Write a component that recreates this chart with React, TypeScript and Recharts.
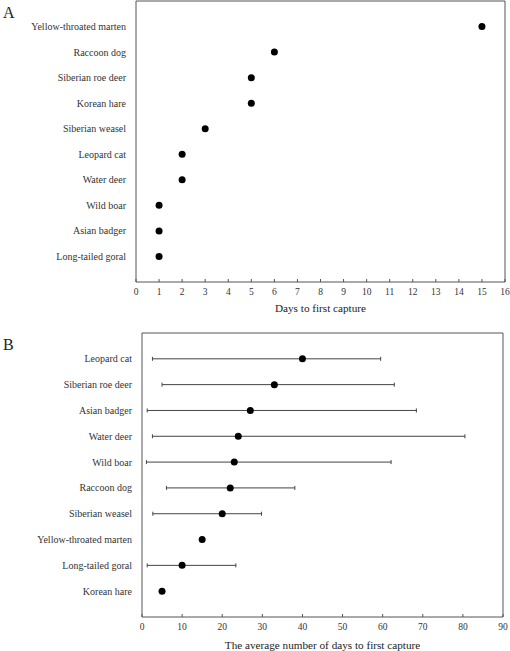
import { ErrorBar, ReferenceLine, Scatter, ScatterChart, XAxis, YAxis } from "recharts";

// Panel A, listed bottom -> top
const firstCaptureSpecies = [
  "Long-tailed goral",
  "Asian badger",
  "Wild boar",
  "Water deer",
  "Leopard cat",
  "Siberian weasel",
  "Korean hare",
  "Siberian roe deer",
  "Raccoon dog",
  "Yellow-throated marten"
];
const firstCaptureDays = [1, 1, 1, 2, 2, 3, 5, 5, 6, 15];
const daysTicks = [0, 1, 2, 3, 4, 5, 6, 7, 8, 9, 10, 11, 12, 13, 14, 15, 16];

// Panel B, listed bottom -> top
const averageSpecies = [
  "Korean hare",
  "Long-tailed goral",
  "Yellow-throated marten",
  "Siberian weasel",
  "Raccoon dog",
  "Wild boar",
  "Water deer",
  "Asian badger",
  "Siberian roe deer",
  "Leopard cat"
];
const averageDays = [5, 10, 15, 20, 22, 23, 24, 27, 33, 40];
const averageLow = [5, 1.3, 15, 2.7, 6.1, 1.1, 2.6, 1.3, 5.0, 2.6];
const averageHigh = [5, 23.4, 15, 29.8, 38.1, 62.1, 80.5, 68.4, 62.9, 59.5];
const averageTicks = [0, 10, 20, 30, 40, 50, 60, 70, 80, 90];

const rowTicks = [1, 2, 3, 4, 5, 6, 7, 8, 9, 10];
const FONT = "'Liberation Serif', 'Times New Roman', serif";
const FRAME = "#555";

interface Row {
  pos: number;
  value: number;
  err: [number, number];
}

const rowsA: Row[] = firstCaptureDays.map((value, i) => ({ pos: i + 1, value, err: [0, 0] }));
const rowsB: Row[] = averageDays.map((value, i) => ({
  pos: i + 1,
  value,
  err: [value - averageLow[i], averageHigh[i] - value]
}));

function XTick(props: any) {
  const { x, y, payload } = props;
  return (
    <g>
      <line x1={x} y1={y} x2={x} y2={y - 3} stroke={FRAME} />
      <text x={x} y={y + 13} textAnchor="middle" style={{ fontSize: 9.5, fontFamily: FONT }} fill="#333">
        {payload.value}
      </text>
    </g>
  );
}

function makeYTick(names: string[]) {
  return function YTick(props: any) {
    const { x, y, payload } = props;
    return (
      <text x={x} y={y + 3.5} textAnchor="end" style={{ fontSize: 10, fontFamily: FONT }} fill="#333">
        {names[payload.value - 1] ?? ""}
      </text>
    );
  };
}

function Dot(props: any) {
  return <circle cx={props.cx} cy={props.cy} r={3.5} fill="#000" />;
}

interface PanelProps {
  rows: Row[];
  names: string[];
  ticks: number[];
  max: number;
  title: string;
  height: number;
  margin: { top: number; right: number; bottom: number; left: number };
  yWidth: number;
  xHeight: number;
  labelOffset: number;
  withErrors: boolean;
}

function Panel({ rows, names, ticks, max, title, height, margin, yWidth, xHeight, labelOffset, withErrors }: PanelProps) {
  const YTick = makeYTick(names);
  return (
    <ScatterChart width={510} height={height} margin={margin} style={{ fontFamily: FONT }}>
      <XAxis
        type="number"
        dataKey="value"
        domain={[0, max]}
        ticks={ticks}
        interval={0}
        tickLine={false}
        tickSize={0}
        tickMargin={0}
        tick={<XTick />}
        height={xHeight}
        axisLine={{ stroke: FRAME }}
        label={{ value: title, position: "insideBottom", offset: labelOffset, style: { fontSize: 11.2, fontFamily: FONT }, fill: "#222" }}
      />
      <YAxis
        type="number"
        dataKey="pos"
        domain={[0, 11]}
        ticks={rowTicks}
        interval={0}
        width={yWidth}
        tickLine={false}
        tickSize={0}
        tickMargin={10}
        axisLine={{ stroke: FRAME }}
        tick={<YTick />}
      />
      <ReferenceLine x={max} stroke={FRAME} />
      <ReferenceLine y={11} stroke={FRAME} />
      <Scatter data={rows} shape={<Dot />} isAnimationActive={false}>
        {withErrors && <ErrorBar dataKey="err" direction="x" width={2} stroke="#444" strokeWidth={1} />}
      </Scatter>
    </ScatterChart>
  );
}

export default function App() {
  return (
    <div style={{ position: "absolute", left: 0, top: 0, width: 510, height: 651, background: "#fff", fontFamily: FONT }}>
      <div style={{ position: "absolute", left: 0, top: 0 }}>
        <Panel
          rows={rowsA}
          names={firstCaptureSpecies}
          ticks={daysTicks}
          max={16}
          title="Days to first capture"
          height={320}
          margin={{ top: 1, right: 5, bottom: 0, left: 0 }}
          yWidth={136}
          xHeight={38}
          labelOffset={8}
          withErrors={false}
        />
      </div>
      <div style={{ position: "absolute", left: 0, top: 320 }}>
        <Panel
          rows={rowsB}
          names={averageSpecies}
          ticks={averageTicks}
          max={90}
          title="The average number of days to first capture"
          height={331}
          margin={{ top: 13, right: 7, bottom: 0, left: 0 }}
          yWidth={142}
          xHeight={34}
          labelOffset={2}
          withErrors={true}
        />
      </div>
      <div style={{ position: "absolute", left: 3, top: 4, fontSize: 16, color: "#222" }}>A</div>
      <div style={{ position: "absolute", left: 3, top: 336, fontSize: 16, color: "#222" }}>B</div>
    </div>
  );
}
